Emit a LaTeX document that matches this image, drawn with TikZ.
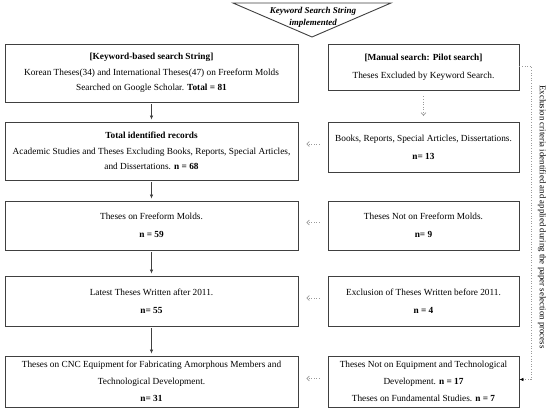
\documentclass[tikz,border=0pt]{standalone}
\usepackage{fontspec}
\setmainfont{Liberation Serif}
\usetikzlibrary{arrows.meta,calc}
\definecolor{edge}{HTML}{404040}
\definecolor{dotc}{HTML}{9A9A9A}
\tikzset{
  box/.style={draw=edge, line width=0.9pt, fill=white, align=center, inner sep=0pt},
  lbox/.style={box, minimum width=293pt},
  rbox/.style={box, minimum width=191pt},
  solidarrow/.style={draw=edge, line width=0.7pt, -{Latex[length=4pt,width=3.5pt]},
    shorten <=2pt, shorten >=2pt},
  dotarrow/.style={draw=dotc, line width=0.6pt, dotted, -{Straight Barb[length=2.5pt,width=5pt]},
    shorten <=8pt, shorten >=8pt},
  loopline/.style={draw=dotc, line width=0.6pt, dotted, -{Latex[length=4pt,width=3.5pt,color=black]}}
}
\begin{document}
\begin{tikzpicture}[x=1pt,y=-1pt]
\useasboundingbox (0,0) rectangle (550,409);
% top triangle
\draw[edge, line width=0.9pt, fill=white] (233,3) -- (391,3) -- (312,37) -- cycle;
\node[font=\fontsize{9}{12}\selectfont\bfseries\itshape, align=center] (trig) at (313,17.5) {Keyword Search String\\implemented};
% left column
\node[lbox, minimum height=58pt, font=\fontsize{9.3}{15.5}\selectfont] (L1) at (151.5,73)
  {\textbf{[Keyword-based search String]}\\Korean Theses(34) and International Theses(47) on Freeform Molds\\Searched on Google Scholar. \textbf{Total = 81}};
\node[lbox, minimum height=58pt, font=\fontsize{9.3}{15.5}\selectfont] (L2) at (151.5,151)
  {\textbf{Total identified records}\\Academic Studies and Theses Excluding Books, Reports, Special Articles,\\and Dissertations. \textbf{n = 68}};
\node[lbox, minimum height=49pt, font=\fontsize{9.3}{18}\selectfont] (L3) at (151.5,225.5)
  {Theses on Freeform Molds.\\\textbf{n = 59}};
\node[lbox, minimum height=50pt, font=\fontsize{9.3}{18}\selectfont] (L4) at (151.5,301)
  {Latest Theses Written after 2011.\\\textbf{n= 55}};
\node[lbox, minimum height=51pt, font=\fontsize{9.3}{17}\selectfont] (L5) at (151.5,381.5)
  {Theses on CNC Equipment for Fabricating Amorphous Members and\\Technological Development.\\\textbf{n= 31}};
% right column
\node[rbox, minimum height=46pt, font=\fontsize{9.3}{18}\selectfont] (R1) at (423.5,67)
  {\textbf{[Manual search: Pilot search]}\\Theses Excluded by Keyword Search.};
\node[rbox, minimum height=50pt, font=\fontsize{9.3}{18}\selectfont] (R2) at (423.5,147)
  {Books, Reports, Special Articles, Dissertations.\\\textbf{n= 13}};
\node[rbox, minimum height=49pt, font=\fontsize{9.3}{18}\selectfont] (R3) at (423.5,225.5)
  {Theses Not on Freeform Molds.\\\textbf{n= 9}};
\node[rbox, minimum height=50pt, font=\fontsize{9.3}{18}\selectfont] (R4) at (423.5,301)
  {Exclusion of Theses Written before 2011.\\\textbf{n = 4}};
\node[rbox, minimum height=51pt, font=\fontsize{9.3}{17}\selectfont] (R5) at (423.5,381.5)
  {Theses Not on Equipment and Technological\\Development. \textbf{n = 17}\\Theses on Fundamental Studies. \textbf{n = 7}};
% side text
\node[rotate=-90, font=\fontsize{8.8}{10}\selectfont] (side) at (542,217)
  {Exclusion criteria identified and applied during the paper selection process};
% solid arrows
\draw[solidarrow] (L1.south) -- (L2.north);
\draw[solidarrow] (L2.south) -- (L3.north);
\draw[solidarrow] (L3.south) -- (L4.north);
\draw[solidarrow] (L4.south) -- (L5.north);
% dotted arrows
\draw[dotarrow, shorten <=6pt, shorten >=6pt] (R1.south) -- (R2.north);
\draw[dotarrow] ([yshift=3pt]R2.west) -- ([yshift=3pt]R2.west -| L2.east);
\draw[dotarrow] ([yshift=3pt]R3.west) -- ([yshift=3pt]R3.west -| L3.east);
\draw[dotarrow] ([yshift=3pt]R4.west) -- ([yshift=3pt]R4.west -| L4.east);
\draw[dotarrow] ([yshift=3pt]R5.west) -- ([yshift=3pt]R5.west -| L5.east);
% loop
\coordinate (loopx) at (531,0);
\draw[loopline] ([yshift=1pt]R1.east) -- ([yshift=1pt]R1.east -| loopx) |- ([yshift=2pt]R5.east);
\end{tikzpicture}
\end{document}
